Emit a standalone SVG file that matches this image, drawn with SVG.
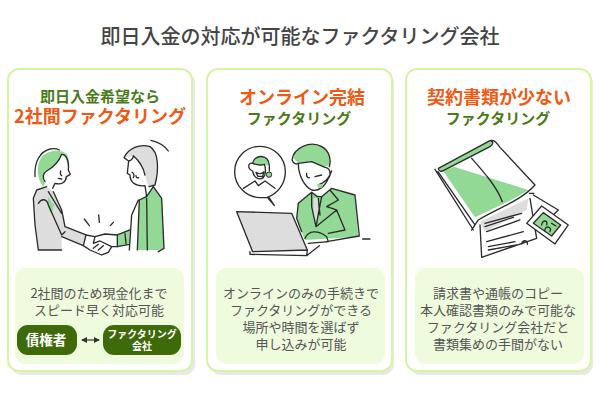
<svg xmlns="http://www.w3.org/2000/svg" width="600" height="400" viewBox="0 0 600 400">
<style>
text{font-family:"Noto Sans CJK JP","Noto Sans",sans-serif;text-anchor:middle}
.title{font-size:20px;font-weight:500;fill:#444}
.or{font-size:18px;font-weight:700;fill:#ee5a14}
.gr{font-size:15px;font-weight:700;fill:#4a7a16}
.b{font-size:13px;fill:#555}
.card{fill:#fff;stroke:#d5f5a3;stroke-width:2}
.sh{fill:#e8e8e8}
.panel{fill:#eefbdc}
.pill{fill:#3f6a0a}
.l{fill:none;stroke:#2b2b2b;stroke-width:4;stroke-linecap:round;stroke-linejoin:round}
.g{fill:#93d996;stroke:none}
.ga{fill:#ddd;stroke:none}
.w{fill:#fff;stroke:#2b2b2b;stroke-width:4;stroke-linejoin:round;stroke-linecap:round}
</style>
<defs><marker id="ah" viewBox="0 0 6 6" refX="5" refY="3" markerWidth="5" markerHeight="5" orient="auto-start-reverse"><path d="M0,0L6,3L0,6Z" fill="#333"/></marker></defs>
<rect width="600" height="400" fill="#fff"/>
<text class="title" x="300" y="44">即日入金の対応が可能なファクタリング会社</text>

<g id="card1">
<rect class="sh" x="11" y="72" width="184" height="303" rx="11"/>
<rect class="card" x="8" y="69" width="184" height="302" rx="11"/>
<text class="gr" x="100" y="102">即日入金希望なら</text>
<text class="or" x="100" y="123">2社間ファクタリング</text>
<g transform="translate(30,135) scale(.3333)">
<path class="ga" d="M20,165L10,190L15,270L25,345H95V305L160,332L168,300L105,275L95,225L70,170L50,155Z"/>
<path class="g" d="M40,155C20,130 18,90 35,65C55,45 95,40 112,60C118,75 118,95 115,105C112,80 105,60 95,58C85,85 65,100 50,108C38,115 37,130 45,145ZM55,185L72,210L65,237C55,225 50,200 55,185Z"/>
<path class="l" d="M15,125C12,80 30,50 60,42C72,40 82,42 88,45M95,58C85,85 65,100 50,108C38,115 37,130 45,140M95,58C108,58 118,75 115,105L121,118L109,125C108,142 95,150 75,145L68,160M50,155L20,165L10,190L15,270L25,345H95M70,170L95,225L105,275L168,300M160,332L95,305M55,170L95,235M25,205C35,190 50,190 55,210L95,300L105,290M92,108C90,115 92,120 95,122M85,130L95,132" stroke-width="3.5"/>
<path class="ga" d="M282,68C295,40 330,25 360,35C385,50 388,100 375,150L355,155L345,120C335,90 320,75 310,62Z"/>
<path class="g" d="M370,155L395,190L402,340L385,345H322L328,195L350,180ZM262,300L300,285V328L262,335Z"/>
<path class="l" d="M282,68C295,40 330,25 360,35C385,50 388,100 375,150L357,155M282,68L296,78C305,75 310,70 310,62C325,75 340,95 345,120M296,78L292,115L300,120C300,140 315,155 345,152L350,185M370,155L395,190L402,340L385,350M370,155L350,185L328,195L322,345M350,190L352,345M325,195L305,240L298,345M262,300L300,285M262,335L298,328M285,295L288,325M306,112C312,115 314,122 310,128M318,122C318,128 322,130 326,128"/>
<path class="l" d="M363,16Q400,25 415,48M163,252L178,272M206,240L208,262M250,262L241,272"/>
<path class="w" d="M168,300L195,305L225,297L262,300L262,335L245,335L235,352L215,360L180,345L160,332Z"/>
<path class="l" d="M195,305L190,325L210,318L245,335M205,345L220,332M190,340L205,328" stroke-width="3.5"/>
</g>
<rect class="panel" x="15" y="268" width="169" height="96" rx="11"/>
<text class="b" x="99" y="298">2社間のため現金化まで</text>
<text class="b" x="99" y="315">スピード早く対応可能</text>
</g>
<g id="debtor"><rect class="pill" x="17" y="325" width="60" height="30" rx="11"/><text x="46" y="345" font-size="13.5" font-weight="700" fill="#fff">債権者</text></g>
<g id="factoring"><rect class="pill" x="103" y="325" width="78" height="30" rx="11"/><text x="142" y="338" font-size="10" font-weight="700" fill="#fff">ファクタリング</text><text x="142" y="350" font-size="10" font-weight="700" fill="#fff">会社</text></g>
<g id="connectors"><line x1="82" y1="340" x2="99" y2="340" stroke="#333" stroke-width="1.2" marker-start="url(#ah)" marker-end="url(#ah)"/></g>

<g id="card2">
<rect class="sh" x="210" y="72" width="184" height="303" rx="11"/>
<rect class="card" x="207" y="69" width="185" height="302" rx="11"/>
<text class="or" x="302" y="104">オンライン完結</text>
<text class="gr" x="299" y="124">ファクタリング</text>
<g transform="translate(230,135) scale(.3333)">
<path class="w" d="M112,187C145,175 166,145 166,110C166,68 132,34 90,34C48,34 14,68 14,110C14,152 48,187 90,188L117,187L133,212Z"/>
<path class="g" d="M68,85C70,60 115,55 118,92C100,85 85,92 68,85ZM109,112H125V126H109Z"/>
<path class="l" d="M68,85C70,58 118,55 118,92V108M68,85C55,80 50,100 68,108C70,125 85,138 100,128C108,120 108,100 103,88C90,92 80,90 68,85M78,112C88,118 95,118 102,110L98,124H84ZM40,160L75,138L85,152L105,138L135,160"/>
<circle cx="117" cy="119" r="8" fill="#93d996" stroke="#2b2b2b" stroke-width="3"/>
<path class="g" d="M245,172L205,205L200,250L215,290L225,315L385,305L375,180L305,160L275,185ZM190,70C195,40 240,20 270,30C295,40 303,65 298,90L285,95L245,80L205,85Z"/>
<path class="ga" d="M250,190L266,188L262,240L258,275L250,235Z"/>
<path class="l" d="M186,75C190,40 240,15 275,35C295,45 305,70 298,95M186,75C190,85 198,90 205,85L245,80L285,97M205,85C205,125 225,155 245,165C265,170 285,155 295,130C305,120 300,100 288,98M265,150Q295,140 305,108M230,115C228,125 235,130 238,128M255,125L275,120M245,172L205,205L200,250L215,290M275,185L305,160L375,180L388,303L290,320M245,172L262,185L275,185L258,275L245,215ZM300,165L325,195L290,215L320,225L258,275M320,225L345,285L295,295M265,190L270,240"/>
<path class="g" d="M262,147L280,148L276,158L264,158Z"/>
<path class="ga" d="M20,230L185,235L232,345L68,350Z"/>
<path class="l" d="M20,230L185,235L232,345L68,350ZM60,350V358L230,362L268,332M232,345L230,362M398,312H420M225,310C235,285 265,285 290,305L295,320L235,325"/>
</g>
<rect class="panel" x="216" y="268" width="169" height="96" rx="11"/>
<text class="b" x="301" y="298">オンラインのみの手続きで</text>
<text class="b" x="301" y="315">ファクタリングができる</text>
<text class="b" x="301" y="332">場所や時間を選ばず</text>
<text class="b" x="301" y="349">申し込みが可能</text>
</g>

<g id="card3">
<rect class="sh" x="409" y="72" width="184" height="303" rx="11"/>
<rect class="card" x="406" y="69" width="185" height="302" rx="11"/>
<text class="or" x="499" y="104">契約書類が少ない</text>
<text class="gr" x="498" y="124">ファクタリング</text>
<g transform="translate(430,130) scale(.3333)">
<path class="g" d="M25,115L180,32C192,33 192,42 180,50L40,122C35,125 25,125 25,115ZM40,124L72,110L295,180C260,205 190,235 135,262Z"/>
<path class="ga" d="M295,205L290,240L165,305L150,275Z"/>
<path class="l" d="M25,115L180,32C195,28 200,40 210,52L315,165M25,115C25,125 35,125 40,122L180,50C192,42 190,33 180,32M125,85C165,130 200,170 217,215M15,118L130,300M24,125L135,285M125,300L145,270C200,235 270,215 315,165M298,190L312,190"/>
<path class="l" d="M150,285L155,382L320,325L300,205M165,280L275,250M165,290L250,262M170,305L270,270M170,335L280,305M175,350L255,335M175,360L260,345M275,342C278,328 295,330 292,343M310,195L385,240L370,255"/>
<path fill="#fff" d="M290,280L335,228L415,285L375,342Z"/>
<path class="g" d="M310,280L340,248L392,285L365,318Z"/>
<path class="l" d="M290,280L335,228L415,285L375,342ZM310,280L340,248L392,285L365,318ZM335,285C338,268 355,270 350,285M345,300C345,285 368,290 360,305M365,280L378,288"/>
</g>
<rect class="panel" x="415" y="268" width="169" height="96" rx="11"/>
<text class="b" x="498" y="298">請求書や通帳のコピー</text>
<text class="b" x="498" y="315">本人確認書類のみで可能な</text>
<text class="b" x="498" y="332">ファクタリング会社だと</text>
<text class="b" x="498" y="349">書類集めの手間がない</text>
</g>
</svg>
